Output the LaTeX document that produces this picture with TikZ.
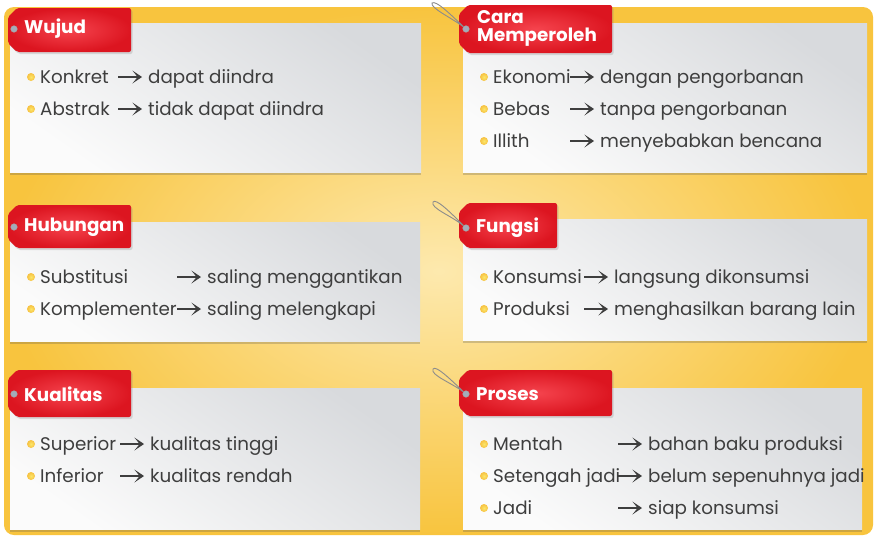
\documentclass[tikz,border=0pt]{standalone}
\usepackage{fontspec}
\setmainfont{Poppins}
\usetikzlibrary{arrows.meta,shadows,calc}
\definecolor{gold}{HTML}{F8C43E}
\definecolor{ylight}{HTML}{FDE9AE}
\definecolor{panelgray}{HTML}{D8DADD}
\definecolor{panelwhite}{HTML}{FBFBFB}
\definecolor{tagred}{HTML}{DC1520}
\definecolor{taglight}{HTML}{F5444E}
\definecolor{txtgray}{HTML}{3E3E3E}
\definecolor{bulyellow}{HTML}{F6C445}
\definecolor{holegray}{HTML}{A3ACBA}
\definecolor{stringgray}{HTML}{8C8C8C}
\tikzset{
  panel/.style={top color=panelgray, bottom color=panelwhite, shading angle=-35,
    drop shadow={shadow xshift=0pt, shadow yshift=-3pt, opacity=.25, fill=black!70}},
  tagbody/.style={inner color=taglight, outer color=tagred,
    drop shadow={shadow xshift=1.5pt, shadow yshift=-2pt, opacity=.25}},
  tagtxt/.style={anchor=west, inner sep=0pt, text=white, align=left,
    font=\fontsize{18.3}{18}\selectfont\bfseries},
  hole/.style={circle, inner sep=0pt, minimum size=6.5pt, fill=holegray, draw=gray!70, line width=.5pt},
  tagstring/.style={draw=stringgray, line width=.9pt},
  txt/.style={anchor=west, inner sep=0pt, text height=13.5pt, text depth=0pt,
    text=txtgray, font=\fontsize{18.3}{21}\selectfont},
  bul/.style={circle, inner sep=0pt, minimum size=8pt, inner color=bulyellow!60!yellow!70, outer color=bulyellow!95!orange},
  arr/.style={draw=txtgray, line width=2.4pt, -{Stealth[length=1pt 3.6, width=1pt 5, inset=1pt 1.8, fill=txtgray]}}
}
\newcommand\pricetag[4]{%
  \shade[tagbody, rounded corners=2pt] (#1,#2+9) -- (#1+9,#2) -- (#3,#2) -- (#3,#4) -- (#1+9,#4) -- (#1,#4-9) -- cycle;}
\newcommand\itemrow[6]{%
  \node[bul] (#1b) at (#2-9,#3) {};
  \node[txt] (#1l) at (#2,#3) {#4};
  \node[txt] (#1r) at (#5,#3) {#6};
  \draw[arr] ([xshift=-30pt]#1r.west) -- ([xshift=-6pt]#1r.west);}
\begin{document}
\begin{tikzpicture}[x=1pt,y=-1pt]
\useasboundingbox (0,0) rectangle (877,542);
\fill[white] (0,0) rectangle (877,542);
\shade[inner color=ylight, outer color=gold, rounded corners=10pt] (4,7) rectangle (873,535);
% panels
\shade[panel] (10,23) rectangle (421,172);
\shade[panel] (463,23) rectangle (867,172);
\shade[panel] (10,222) rectangle (420,341);
\shade[panel] (463,219) rectangle (867,340);
\shade[panel] (10,388) rectangle (420,529);
\shade[panel] (463,388) rectangle (862,529);
% tags
\pricetag{8}{8}{131}{52}
\node[hole] (h1) at (14,29) {};
\node[tagtxt] (t1) at (24,29) {Wujud};
\pricetag{459}{5}{612}{53}
\node[hole] (h2) at (466,29) {};
\coordinate (s2) at (432,3);
\draw[tagstring] (h2) .. controls (452,18) and (430,8) .. (s2) .. controls (436,0) and (450,14) .. (h2);
\node[tagtxt] (t2) at (477,28) {Cara\\Memperoleh};
\pricetag{8}{205}{131}{248}
\node[hole] (h3) at (14,227) {};
\node[tagtxt] (t3) at (24,227) {Hubungan};
\pricetag{459}{203}{557}{248}
\node[hole] (h4) at (466,228) {};
\coordinate (s4) at (433,202);
\draw[tagstring] (h4) .. controls (452,216) and (430,208) .. (s4) .. controls (436,198) and (450,212) .. (h4);
\node[tagtxt] (t4) at (476,228) {Fungsi};
\pricetag{8}{370}{131}{417}
\node[hole] (h5) at (14,394) {};
\node[tagtxt] (t5) at (24,394) {Kualitas};
\pricetag{459}{370}{612}{416}
\node[hole] (h6) at (466,394) {};
\coordinate (s6) at (433,369);
\draw[tagstring] (h6) .. controls (452,383) and (430,375) .. (s6) .. controls (436,365) and (450,379) .. (h6);
\node[tagtxt] (t6) at (476,394) {Proses};
% rows
\itemrow{wa}{40}{77}{Konkret}{148}{dapat diindra}
\itemrow{wb}{40}{109}{Abstrak}{148}{tidak dapat diindra}
\itemrow{ca}{493}{77}{Ekonomi}{600}{dengan pengorbanan}
\itemrow{cb}{493}{109}{Bebas}{600}{tanpa pengorbanan}
\itemrow{cc}{493}{141}{Illith}{600}{menyebabkan bencana}
\itemrow{ha}{40}{277}{Substitusi}{207}{saling menggantikan}
\itemrow{hb}{40}{309}{Komplementer}{207}{saling melengkapi}
\itemrow{fa}{493}{277}{Konsumsi}{614}{langsung dikonsumsi}
\itemrow{fb}{493}{309}{Produksi}{614}{menghasilkan barang lain}
\itemrow{ka}{40}{444}{Superior}{150}{kualitas tinggi}
\itemrow{kb}{40}{476}{Inferior}{150}{kualitas rendah}
\itemrow{pa}{493}{444}{Mentah}{648}{bahan baku produksi}
\itemrow{pb}{493}{476}{Setengah jadi}{648}{belum sepenuhnya jadi}
\itemrow{pc}{493}{508}{Jadi}{648}{siap konsumsi}
\end{tikzpicture}
\end{document}
